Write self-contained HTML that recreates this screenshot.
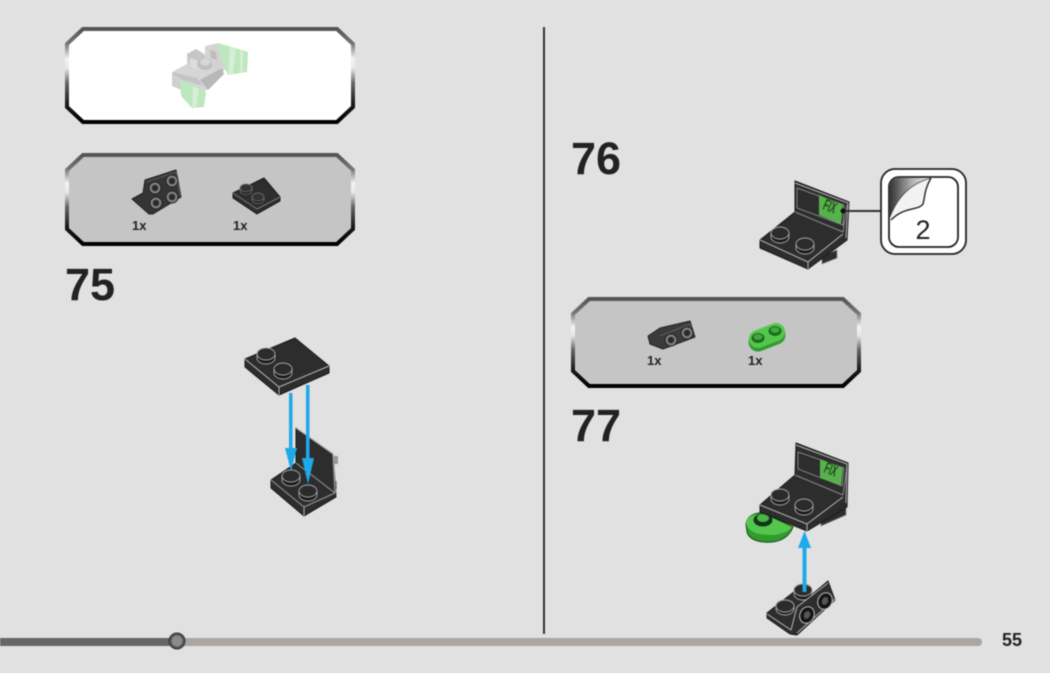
<!DOCTYPE html>
<html><head><meta charset="utf-8"><style>
html,body{margin:0;padding:0;background:#e1e1e1;width:1050px;height:673px;overflow:hidden}
svg{display:block;filter:blur(.5px)}
text{font-family:"Liberation Sans",sans-serif}
.b{fill:#2d2d2d;stroke:#1a1a1a;stroke-width:1;stroke-linejoin:round}
.e{fill:none;stroke:#b5b5b5;stroke-width:1;stroke-linejoin:round}
.n{font-weight:bold;font-size:45px;fill:#222}
.q{font-weight:bold;font-size:13px;fill:#222}
</style></head><body>
<svg width="1050" height="673" viewBox="0 0 1050 673" xmlns="http://www.w3.org/2000/svg">
<defs>
<linearGradient id="bd" x1="0" y1="0" x2="0" y2="1">
<stop offset="0" stop-color="#555"/><stop offset=".16" stop-color="#777"/><stop offset=".32" stop-color="#f4f4f4"/><stop offset=".42" stop-color="#e8e8e8"/><stop offset=".58" stop-color="#666"/><stop offset=".8" stop-color="#1c1c1c"/><stop offset="1" stop-color="#000"/>
</linearGradient>
<linearGradient id="curl" x1="0" y1="0" x2="1" y2="0">
<stop offset="0" stop-color="#333"/><stop offset=".5" stop-color="#aaa"/><stop offset="1" stop-color="#f6f6f6"/>
</linearGradient>
<g id="s"><path d="M-9 0v4a9 6 0 0 0 18 0v-4" fill="#1c1c1c" stroke="#a8a8a8" stroke-width=".9"/><ellipse rx="9" ry="6" fill="#2b2b2b" stroke="#a8a8a8" stroke-width=".9"/></g>
<g id="ss"><path d="M-6 0v2.5a6 4 0 0 0 12 0v-2.5" fill="#1c1c1c" stroke="#777" stroke-width=".7"/><ellipse rx="6" ry="4" fill="#333" stroke="#777" stroke-width=".7"/></g>
<g id="c"><circle r="6" fill="#7e7e7e" stroke="#222" stroke-width="1"/><circle r="3.2" fill="#2a2a2a"/></g>
<g id="cw"><ellipse rx="7" ry="8.5" transform="rotate(25)" fill="#151515" stroke="#c0c0c0" stroke-width="1"/><ellipse rx="3.6" ry="4.6" transform="rotate(25)" fill="#555" stroke="#111"/></g>
</defs>
<rect width="1050" height="673" fill="#e1e1e1"/>

<polygon points="83,29 337,29 353,44 353,107 337,122 83,122 67,107 67,44" fill="#fff" stroke="url(#bd)" stroke-width="4"/>
<polygon points="83,155 337,155 353,170 353,229 337,244 83,244 67,229 67,170" fill="#c5c5c5" stroke="url(#bd)" stroke-width="4"/>
<polygon points="589,299 843,299 859,314 859,371 843,386 589,386 573,371 573,314" fill="#c5c5c5" stroke="url(#bd)" stroke-width="4"/>

<!-- ghost assembly -->
<g>
<polygon points="172,72 187,64 187,54 196,49 205,54 205,46 218,43 226,68 210,88 203,92 181,82 172,86" fill="#d6d6d6"/>
<polygon points="187,54 196,49 205,56 204,66 190,68" fill="#c6c6c6"/>
<polygon points="190,58 203,62 203,70 190,67" fill="#dedede"/>
<ellipse cx="205" cy="64" rx="8" ry="6" fill="#c0c0c0"/>
<ellipse cx="205" cy="62" rx="5" ry="3.5" fill="#d8d8d8"/>
<polygon points="206,48 218,44 224,66 214,70" fill="#d2d2d2"/>
<polygon points="210,50 216,52 217,60 211,58" fill="#bdbdbd"/>
<polygon points="172,72 197,78 203,86 176,78" fill="#c4c4c4"/>
<polygon points="200,80 222,68 224,74 208,90" fill="#b8b8b8"/>
<polygon points="172,74 180,78 181,90 172,86" fill="#cfcfcf"/>
<polygon points="218,43 235,48 248,52 247,72 228,75 221,60" fill="#bde7bd"/>
<polygon points="230,47 236,49 233,74 228,75" fill="#d4efd4"/>
<polygon points="240,50 243,50 243,72 240,73" fill="#d4efd4"/>
<polygon points="180,80 192,84 206,92 204,107 192,108 181,96" fill="#bde7bd"/>
<polygon points="193,86 199,89 196,108 192,107" fill="#d4efd4"/>
</g>

<!-- parts 1 -->
<polygon points="145,180 176,170 181,197 153,214 149,214 132,199 143,193" fill="#353535" stroke="#222" stroke-linejoin="round"/>
<polyline points="146,182 176,172 180,196" fill="none" stroke="#666" stroke-width=".8"/>
<use href="#c" x="155" y="188"/><use href="#c" x="172" y="181"/><use href="#c" x="156" y="203"/><use href="#c" x="172" y="197"/>
<polygon points="233,193 264,178 280,197 280,201 257,214 233,198" class="b"/>
<polyline points="233,193 257,209 280,197" class="e" style="stroke:#777"/>
<use href="#ss" x="246" y="188"/><use href="#ss" x="258" y="197"/>
<text x="132" y="230" class="q">1x</text><text x="233" y="230" class="q">1x</text>

<text x="65" y="300" class="n">75</text>

<!-- step 75 upper -->
<polygon points="245,359 295,338 329,366 329,373 279,395 245,367" class="b"/>
<polyline points="245,359 279,387 329,366" class="e"/><line x1="279" y1="387" x2="279" y2="395" class="e"/>
<use href="#s" x="266" y="354"/><use href="#s" x="283" y="369"/>
<!-- step 75 lower -->
<rect x="334" y="456" width="4" height="8" fill="#999"/><rect x="333" y="481" width="4" height="8" fill="#999"/>
<polygon points="296,428 333,454 336,497 304,516 271,488 271,480 296,463" class="b"/>
<polyline points="296,428 333,454 335,493" class="e"/>
<polyline points="271,480 304,507 335,493 296,463" class="e" style="stroke:#999"/>
<line x1="304" y1="507" x2="304" y2="516" class="e"/>
<use href="#s" x="291" y="476"/><use href="#s" x="308" y="491"/>
<rect x="289" y="393" width="3.5" height="56" fill="#1ea9e9"/>
<polygon points="285,448 297,448 291,471" fill="#1ea9e9"/>
<rect x="306" y="385" width="3.5" height="74" fill="#1ea9e9"/>
<polygon points="302,458 314,458 308,484" fill="#1ea9e9"/>

<rect x="543" y="27" width="2" height="607" fill="#333"/>

<text x="571" y="174" class="n">76</text>
<!-- step 76 -->
<polygon points="822,264 822,256 837,250 837,258" fill="#2d2d2d" stroke="#888" stroke-width=".7"/>
<polygon points="795,181 849,202 847,240 808,269 760,248 760,240 795,212" class="b"/>
<polygon points="797,188 844,205 843,225 797,208" fill="#2d2d2d" stroke="#999" stroke-width=".8"/>
<polygon points="819,195 843,205 841,224 819,215" fill="#58b24c"/>
<text transform="translate(822,209) rotate(22) scale(.75,1.5)" font-size="11" font-weight="bold" fill="#1f4a1c">FIX</text>
<polyline points="795,212 843,232 847,205" class="e" style="stroke:#888"/>
<polyline points="795,183 848,203 846,238" class="e"/>
<polyline points="760,240 808,262 843,234" class="e"/>
<line x1="808" y1="262" x2="808" y2="269" class="e"/>
<use href="#s" x="780" y="233"/><use href="#s" x="805" y="244"/>
<line x1="842" y1="211" x2="881" y2="211" stroke="#333" stroke-width="2"/><circle cx="843" cy="211" r="2.5" fill="#111"/>
<rect x="881" y="169" width="85" height="85" rx="14" fill="#fff" stroke="#222" stroke-width="1.8"/>
<rect x="889" y="177" width="69" height="70" rx="10" fill="#fff" stroke="#222" stroke-width="1.8"/>
<path d="M890 217V187a9 9 0 0 1 9-9H931C912 183 898 196 890 217Z" fill="url(#curl)"/>
<path d="M890 217C898 196 912 183 931 178C924 190 925 198 923 204C918 211 905 206 890 220Z" fill="#f2f2f2"/>
<path d="M891 220C905 206 918 211 923 204C925 198 924 190 931 178" fill="none" stroke="#222" stroke-width="1.4"/>
<path d="M890 217C898 196 912 183 931 178" fill="none" stroke="#444" stroke-width=".8"/>
<text x="923" y="239" font-size="27" text-anchor="middle" fill="#222">2</text>

<!-- parts 2 -->
<polygon points="648,336 660,328 690,321 695,337 663,349 650,344" fill="#3b3b3b" stroke="#222" stroke-linejoin="round"/>
<polyline points="660,336 690,324 693,336" fill="none" stroke="#6a6a6a" stroke-width=".8"/>
<use href="#c" x="671" y="340"/><use href="#c" x="687" y="333"/>
<line x1="758" y1="342" x2="776" y2="335" stroke="#2f9c2e" stroke-width="19" stroke-linecap="round"/>
<line x1="758" y1="339" x2="776" y2="332" stroke="#55c64d" stroke-width="18" stroke-linecap="round"/>
<ellipse cx="758" cy="338" rx="6.5" ry="5" fill="#1b6a1c"/><ellipse cx="758" cy="337" rx="4.5" ry="3" fill="#3fa93d"/>
<ellipse cx="775" cy="331" rx="6.5" ry="5" fill="#1b6a1c"/><ellipse cx="775" cy="330" rx="4.5" ry="3" fill="#3fa93d"/>
<text x="647" y="365" class="q">1x</text><text x="748" y="365" class="q">1x</text>

<text x="571" y="441" class="n">77</text>
<!-- step 77 -->
<path d="M746 524C747 516 755 512 764 513L793 527C790 535 783 541 772 542C760 543 749 540 747 532Z" fill="#2f9c2e" stroke="#174d17"/>
<path d="M746 523C747 516 755 513 764 514L792 527C788 532 780 535 770 535C757 535 747 531 746 523Z" fill="#55c64d"/>
<ellipse cx="763" cy="520" rx="9.5" ry="6.5" fill="#15351a"/>
<ellipse cx="763" cy="518" rx="6" ry="4" fill="#47b944"/>
<polygon points="821,526 821,517 846,507 846,515" fill="#2d2d2d" stroke="#888" stroke-width=".7"/>
<polygon points="796,443 848,463 847,507 807,531 760,512 760,505 795,475" class="b"/>
<polygon points="798,452 844,468 842,486 798,469" fill="#2d2d2d" stroke="#999" stroke-width=".8"/>
<polygon points="820,459 843,468 841,485 820,478" fill="#58b24c"/>
<text transform="translate(823,472) rotate(22) scale(.75,1.5)" font-size="11" font-weight="bold" fill="#1f4a1c">FIX</text>
<polyline points="795,475 843,495 847,467" class="e" style="stroke:#888"/>
<polyline points="796,445 847,464 846,503" class="e"/>
<polyline points="760,505 807,524 843,497" class="e"/>
<line x1="807" y1="524" x2="807" y2="531" class="e"/>
<use href="#s" x="780" y="495"/><use href="#s" x="804" y="505"/>
<!-- lower part -->
<polygon points="767,613 795,591 809,597 828,581 835,600 797,635 790,634 767,618" class="b"/>
<path d="M794 590a9 6 0 0 1 18 0v4a9 6 0 0 1-18 0z" fill="#222" stroke="#a8a8a8" stroke-width=".9"/>
<ellipse cx="803" cy="590" rx="9" ry="6" fill="#2b2b2b" stroke="#a8a8a8" stroke-width=".9"/>
<path d="M776 606a9 6 0 0 1 18 0v3a9 6 0 0 1-18 0z" fill="#222" stroke="#a8a8a8" stroke-width=".9"/>
<ellipse cx="785" cy="606" rx="9" ry="6" fill="#2b2b2b" stroke="#a8a8a8" stroke-width=".9"/>
<polygon points="797,607 828,583 835,600 797,635" fill="#2d2d2d"/>
<polyline points="767,614 791,630 797,607 828,583" class="e"/>
<polyline points="797,633 835,599" class="e"/>
<use href="#cw" x="807" y="615"/><use href="#cw" x="825" y="601"/>
<rect x="802.5" y="547" width="4" height="45" fill="#1ea9e9"/>
<polygon points="804.5,531 811,548 798,548" fill="#1ea9e9"/>

<rect x="177" y="638" width="805" height="8" rx="4" fill="#aaa6a1"/>
<rect x="0" y="638" width="177" height="8" fill="#666664"/>
<circle cx="177" cy="641" r="8" fill="#555" stroke="#333" stroke-width="1"/><circle cx="177" cy="641" r="5.5" fill="#8a8a8a"/>
<text x="1002" y="646" font-size="18" font-weight="bold" fill="#222">55</text>
</svg>
</body></html>
